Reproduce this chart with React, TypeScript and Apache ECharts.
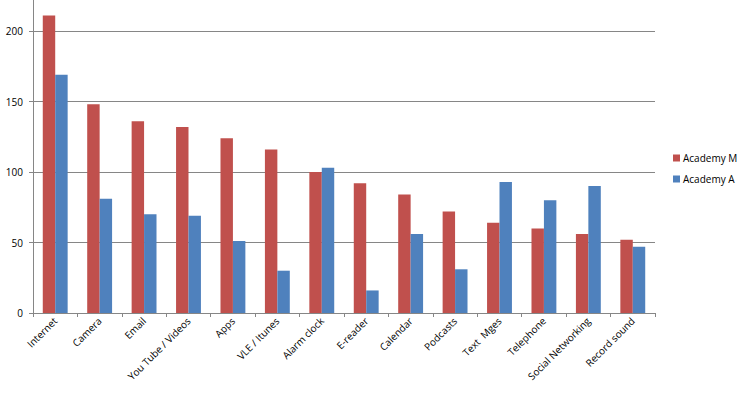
import React, { useEffect, useRef } from "react";
import * as echarts from "echarts";

const categories = [
  "Internet", "Camera", "Email", "You Tube / Videos", "Apps", "VLE / Itunes",
  "Alarm clock", "E-reader", "Calendar", "Podcasts", "Text  Mges", "Telephone",
  "Social Networking", "Record sound",
];
const academyM = [211, 148, 136, 132, 124, 116, 100, 92, 84, 72, 64, 60, 56, 52];
const academyA = [169, 81, 70, 69, 51, 30, 103, 16, 56, 31, 93, 80, 90, 47];

export default function App() {
  const ref = useRef<HTMLDivElement>(null);
  useEffect(() => {
    const chart = echarts.init(ref.current!, null, { renderer: "svg" });
    const font = "'Open Sans', 'Noto Sans', sans-serif";
    chart.setOption({
      animation: false,
      backgroundColor: "#ffffff",
      textStyle: { fontFamily: font },
      grid: { left: 33, right: 89, top: 0, bottom: 84, containLabel: false },
      legend: {
        orient: "vertical",
        left: 668,
        top: 148,
        itemWidth: 7,
        itemHeight: 7,
        itemGap: 11,
        icon: "rect",
        textStyle: { fontSize: 10, color: "#000", fontFamily: font, padding: [0, 0, 0, -2] },
        data: ["Academy M", "Academy A"],
      },
      xAxis: {
        type: "category",
        data: categories,
        axisLine: { lineStyle: { color: "#868686" } },
        axisTick: { show: true, alignWithLabel: false, length: 4, lineStyle: { color: "#868686" } },
        axisLabel: { rotate: 45, interval: 0, fontSize: 10, color: "#000", margin: 6, fontFamily: font },
      },
      yAxis: {
        type: "value",
        min: 0,
        max: 222,
        interval: 50,
        axisLine: { show: true, lineStyle: { color: "#868686" } },
        axisTick: { show: true, length: 4, lineStyle: { color: "#868686" } },
        axisLabel: { fontSize: 10, color: "#000", margin: 10, fontFamily: font, showMaxLabel: false },
        splitLine: { showMaxLine: false, lineStyle: { color: "#868686", width: 1 } },
      },
      series: [
        {
          name: "Academy M",
          type: "bar",
          data: academyM,
          itemStyle: { color: "#C0504D" },
          barGap: "0%",
          barCategoryGap: "44%",
        },
        {
          name: "Academy A",
          type: "bar",
          data: academyA,
          itemStyle: { color: "#4F81BD" },
          barGap: "0%",
          barCategoryGap: "44%",
        },
      ],
    });
    return () => chart.dispose();
  }, []);
  return <div ref={ref} style={{ width: 744, height: 397, position: "absolute", left: 0, top: 0 }} />;
}
